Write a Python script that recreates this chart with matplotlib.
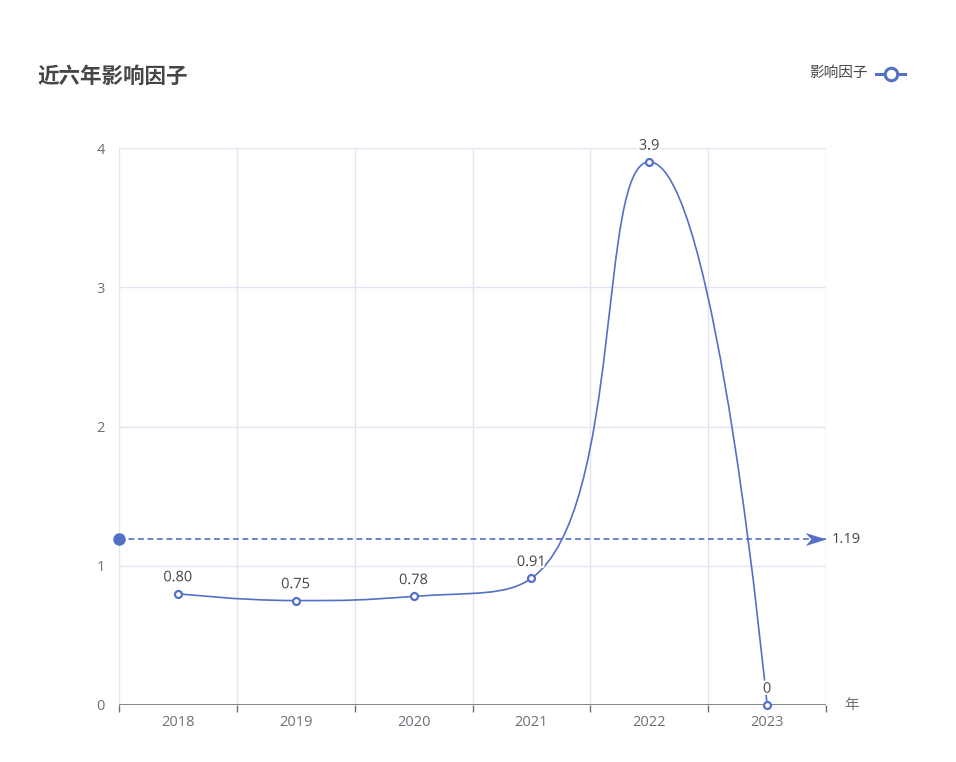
import numpy as np
import matplotlib
matplotlib.use("Agg")
import matplotlib.pyplot as plt
from matplotlib.path import Path
from matplotlib.patches import PathPatch
import matplotlib.patheffects as pe

plt.rcParams['font.family'] = ['Open Sans', 'Noto Sans CJK SC', 'DejaVu Sans']

title = "近六年影响因子"
series_name = "影响因子"
years = ["2018", "2019", "2020", "2021", "2022", "2023"]
value_text = ["0.80", "0.75", "0.78", "0.91", "3.9", "0"]
values = [float(s) for s in value_text]
y_ticks = [0, 1, 2, 3, 4]
x_axis_name = "年"

LINE = "#5470C6"
AXIS = "#6E7079"
GRID = "#E0E6F1"
TEXT = "#464646"
CJK = ['Noto Sans CJK SC', 'DejaVu Sans']
FS = 10.5

W, H = 956, 762
fig = plt.figure(figsize=(W / 100, H / 100), dpi=100)
left, right, top, bottom = 119, 826, 148, 705
ax = fig.add_axes([left / W, (H - bottom) / H, (right - left) / W, (bottom - top) / H])

n = len(years)
xs = np.arange(n)
ax.set_xlim(-0.5, n - 0.5)
ax.set_ylim(0, 4)

for s in ax.spines.values():
    s.set_visible(False)

# grid: horizontal at value ticks, vertical at category boundaries
for yv in y_ticks[1:]:
    ax.axhline(yv, color=GRID, lw=1, zorder=0)
for b in np.arange(-0.5, n, 1.0):
    ax.axvline(b, color=GRID, lw=1, zorder=0)
ax.axhline(0, color=AXIS, lw=1.2, zorder=1)

ax.set_xticks(np.arange(-0.5, n, 1.0))
ax.set_xticklabels([])
ax.set_xticks(xs, minor=True)
ax.set_xticklabels(years, minor=True)
ax.tick_params(axis='x', which='major', length=5, width=1, color=AXIS, direction='out')
ax.tick_params(axis='x', which='minor', length=0, pad=7, labelsize=FS, labelcolor=AXIS)
ax.set_yticks(y_ticks)
ax.set_yticklabels([str(v) for v in y_ticks])
ax.tick_params(axis='y', length=0, pad=10, labelsize=FS, labelcolor=AXIS)

ax.annotate(x_axis_name, (n - 0.5, 0), xytext=(13, 0), textcoords='offset points',
            ha='left', va='center', fontsize=FS, color=AXIS, annotation_clip=False, family=CJK)


def smooth_path(px, py, smooth=0.5):
    """Cubic Bezier path through points, control points clamped per segment."""
    verts = [(px[0], py[0])]
    codes = [Path.MOVETO]
    cpx0, cpy0 = px[0], py[0]
    m = len(px)
    for i in range(1, m):
        x, y = px[i], py[i]
        prevX, prevY = px[i - 1], py[i - 1]
        nextCpx0 = nextCpy0 = None
        if i == m - 1:
            cpx1, cpy1 = x, y
        else:
            nextX, nextY = px[i + 1], py[i + 1]
            vx, vy = nextX - prevX, nextY - prevY
            lp = np.hypot(x - prevX, y - prevY)
            ln = np.hypot(nextX - x, nextY - y)
            r = ln / (ln + lp)
            nextCpx0 = x + vx * smooth * r
            nextCpy0 = y + vy * smooth * r
            nextCpx0 = max(min(nextCpx0, max(nextX, x)), min(nextX, x))
            nextCpy0 = max(min(nextCpy0, max(nextY, y)), min(nextY, y))
            vx, vy = nextCpx0 - x, nextCpy0 - y
            cpx1 = x - vx * lp / ln
            cpy1 = y - vy * lp / ln
            cpx1 = max(min(cpx1, max(prevX, x)), min(prevX, x))
            cpy1 = max(min(cpy1, max(prevY, y)), min(prevY, y))
            vx, vy = x - cpx1, y - cpy1
            nextCpx0 = x + vx * ln / lp
            nextCpy0 = y + vy * ln / lp
        verts += [(cpx0, cpy0), (cpx1, cpy1), (x, y)]
        codes += [Path.CURVE4] * 3
        cpx0, cpy0 = nextCpx0, nextCpy0
    return np.array(verts), codes


disp = ax.transData.transform(np.column_stack([xs, values]))
v_disp, codes = smooth_path(disp[:, 0], disp[:, 1])
v_data = ax.transData.inverted().transform(v_disp)
ax.add_patch(PathPatch(Path(v_data, codes), facecolor='none', edgecolor=LINE, lw=1.2,
                       zorder=3, clip_on=False))
ax.plot(xs, values, ls='none', marker='o', ms=5, mfc='white', mec=LINE, mew=1.6,
        zorder=4, clip_on=False)

for xi, v, t in zip(xs, values, value_text):
    ax.annotate(t, (xi, v), xytext=(0, 6), textcoords='offset points', ha='center', va='bottom',
                fontsize=FS, color=TEXT, zorder=5,
                path_effects=[pe.withStroke(linewidth=3, foreground='white')])

# average mark line: dot at the start, arrow head ending at the right edge
avg = round(float(np.mean(values)), 2)
ax.plot([-0.5, n - 0.5], [avg, avg], color=LINE, lw=1.2, dashes=(3.5, 2.2), zorder=3,
        clip_on=False)
ax.plot([-0.5], [avg], marker='o', ms=8, color=LINE, mec=LINE, zorder=4, clip_on=False)
arrow = Path([(0, 0), (-2, 0.62), (-1.45, 0), (-2, -0.62), (0, 0)],
             [Path.MOVETO, Path.LINETO, Path.LINETO, Path.LINETO, Path.CLOSEPOLY])
ax.plot([n - 0.5], [avg], marker=arrow, ms=30, color=LINE, mec=LINE, mew=0, zorder=4,
        clip_on=False)
ax.annotate(f"{avg:.2f}", (n - 0.5, avg), xytext=(4, 0), textcoords='offset points',
            ha='left', va='center', fontsize=FS, color=TEXT, annotation_clip=False)

# title and legend
fig.text(37 / W, 1 - 76 / H, title, fontsize=15.5, fontweight='bold', color=TEXT,
         ha='left', va='center', family=CJK)
fig.text(868 / W, 1 - 73 / H, series_name, fontsize=FS, color=TEXT, ha='right', va='center',
         family=CJK)
lx0, lx1, ly = 876 / W, 905 / W, 1 - 74 / H
fig.add_artist(plt.Line2D([lx0, lx1], [ly, ly], color=LINE, lw=2.2, transform=fig.transFigure))
fig.add_artist(plt.Line2D([(lx0 + lx1) / 2], [ly], marker='o', ms=9, mfc='white', mec=LINE,
                          mew=2.2, transform=fig.transFigure))

fig.savefig("out.png", dpi=100, facecolor='white')
